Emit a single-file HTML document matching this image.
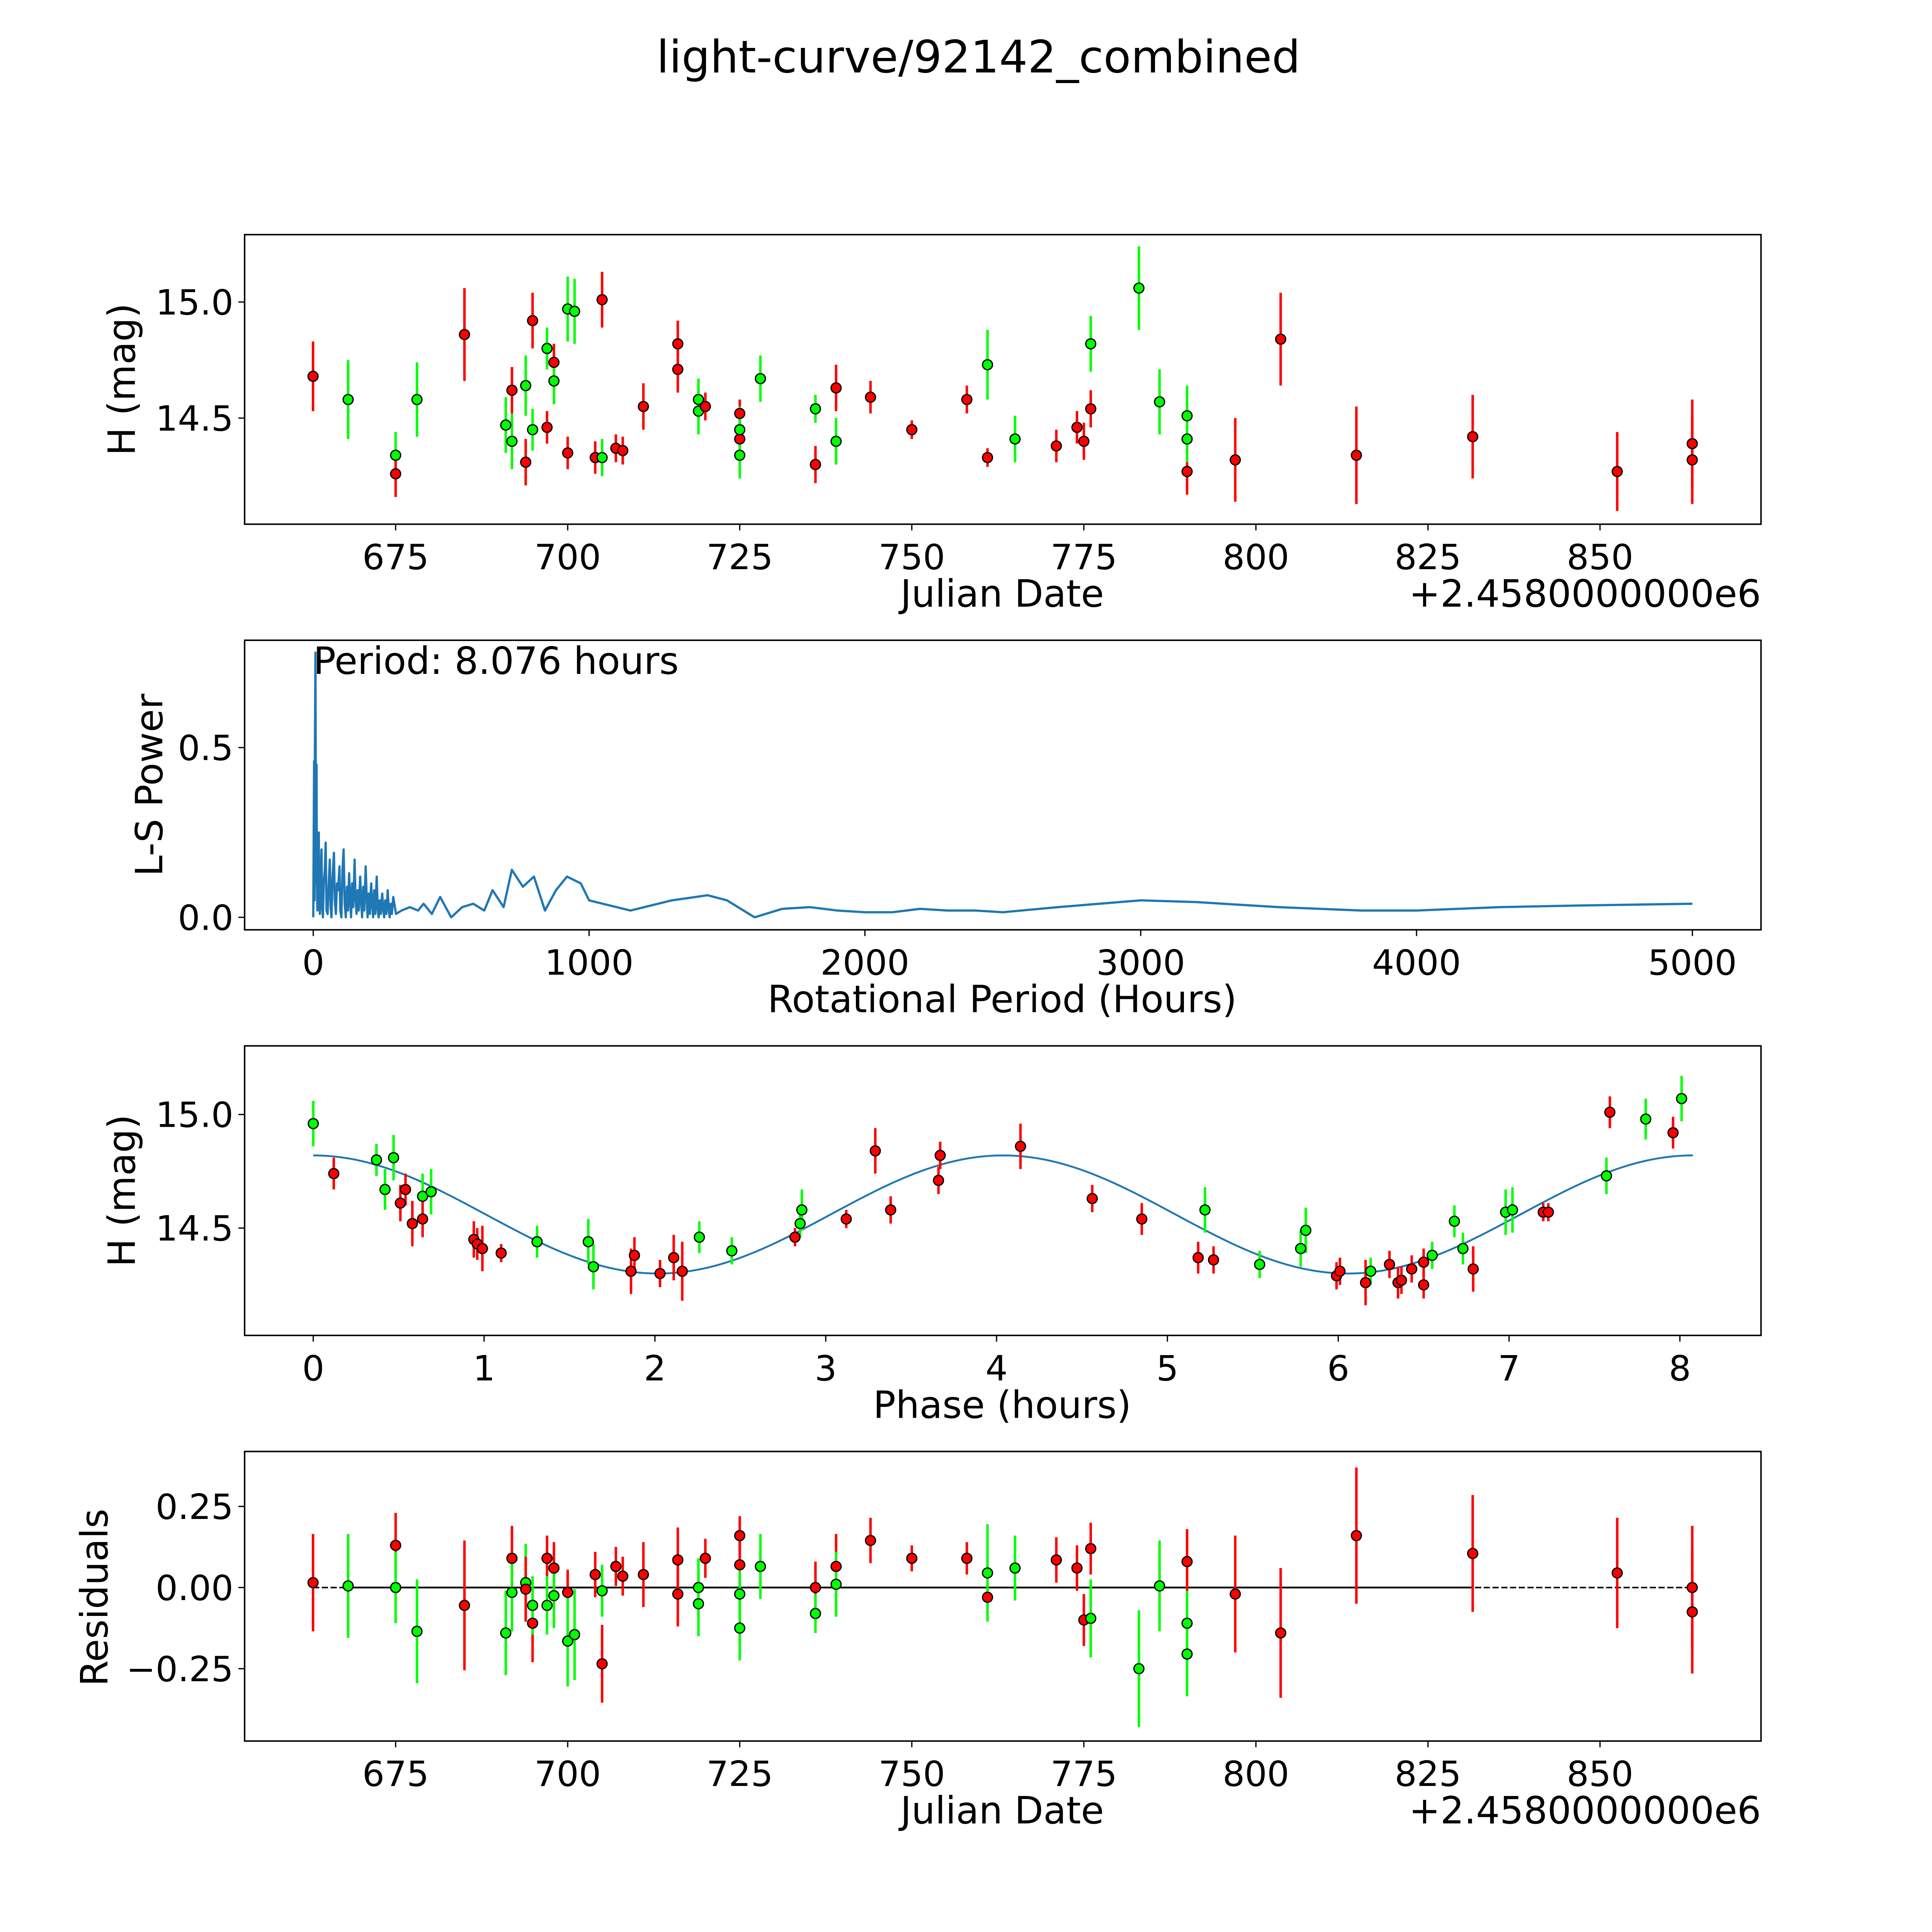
<!DOCTYPE html>
<html><head><meta charset="utf-8">
<style>
html,body{margin:0;padding:0;background:#fff;overflow:hidden;width:100vw;height:100vh;}
svg{display:block;width:100vw;height:100vh;font-family:"DejaVu Sans","Liberation Sans",sans-serif;}
</style></head>
<body>
<svg id="fig" xmlns="http://www.w3.org/2000/svg" viewBox="0 0 1548 1548" preserveAspectRatio="none">
<rect x="0" y="0" width="1548" height="1548" fill="#fff"/>
<text x="784" y="58" font-size="36" text-anchor="middle">light-curve/92142_combined</text>
<g id="p1"></g>
<g id="p2"></g>
<g id="p3"></g>
<g id="p4"></g>
</svg>
<script>
// ---- Panel 1: light curve ----
const lcDate = [663,668.1,675,675,678.1,685,691,691.9,691.9,693.9,693.9,694.9,694.9,697,697,698,698,700,700,701,704,705,705,707,708,711,716,716,719,719,720,725,725,725,725,728,736,736,739,739,744,750,758,761,761,765,771,774,775,776,776,783,786,790,790,790,797,803.6,814.6,831.5,852.5,863.4,863.4];
const lcMag = [14.68,14.58,14.34,14.26,14.58,14.86,14.47,14.40,14.62,14.64,14.31,14.92,14.45,14.46,14.80,14.74,14.66,14.35,14.97,14.96,14.33,14.33,15.01,14.37,14.36,14.55,14.82,14.71,14.58,14.53,14.55,14.52,14.41,14.45,14.34,14.67,14.30,14.54,14.63,14.40,14.59,14.45,14.58,14.33,14.73,14.41,14.38,14.46,14.40,14.82,14.54,15.06,14.57,14.27,14.41,14.51,14.32,14.84,14.34,14.42,14.27,14.39,14.32];
const lcErr = [0.15,0.17,0.1,0.1,0.16,0.2,0.12,0.12,0.1,0.13,0.1,0.12,0.09,0.07,0.09,0.08,0.1,0.07,0.14,0.14,0.07,0.08,0.12,0.06,0.06,0.1,0.1,0.1,0.09,0.1,0.06,0.06,0.08,0.1,0.1,0.1,0.08,0.06,0.1,0.1,0.07,0.04,0.06,0.04,0.15,0.1,0.07,0.07,0.08,0.12,0.08,0.18,0.14,0.1,0.1,0.13,0.18,0.2,0.21,0.18,0.17,0.19,0.19];
const lcBand = ['r','g','g','r','g','r','g','g','r','g','r','r','g','r','g','r','g','r','g','g','r','g','r','r','r','r','r','r','g','g','r','r','r','g','g','g','r','g','r','g','r','r','r','r','g','g','r','r','r','g','r','g','g','r','g','g','r','r','r','r','r','r','r'];
const dateTicks = [675,700,725,750,775,800,825,850];
const magTicks = [14.5,15.0];

// ---- Panel 2: periodogram ----
const pgPeriod = [0,2,3,4,5,6,8,9,10,11,12,13,15,17,20,22,24,27,30,32,35,38,42,45,48,52,56,60,63,66,70,75,78,82,86,90,95,98,102,106,110,114,118,122,126,130,134,137,141,145,150,153,157,161,165,170,174,177,181,185,190,194,197,201,205,210,214,217,221,225,230,234,237,241,245,250,254,257,261,265,270,274,277,281,285,290,300,320,350,380,400,430,460,500,540,580,620,650,690,720,760,800,840,880,920,970,1000,1050,1100,1150,1200,1300,1430,1500,1600,1700,1800,1900,2000,2100,2200,2300,2400,2500,2700,3000,3200,3500,3800,4000,4300,4600,5000];
const pgPower = [0,0.3,0.46,0.2,0.05,0.5,0.78,0.4,0.1,0.35,0.45,0.15,0.02,0.15,0.25,0.05,0.01,0.12,0.2,0.03,0.0,0.1,0.14,0.22,0.02,0.01,0.1,0.17,0.03,0.0,0.12,0.19,0.05,0.01,0.1,0.08,0.15,0.02,0.0,0.14,0.2,0.04,0.0,0.09,0.02,0.13,0.05,0.0,0.1,0.03,0.17,0.06,0.01,0.08,0.02,0.12,0.04,0.0,0.09,0.02,0.15,0.05,0.0,0.07,0.01,0.1,0.03,0.0,0.08,0.01,0.12,0.02,0.0,0.05,0.01,0.07,0.02,0.0,0.05,0.01,0.08,0.02,0.0,0.04,0.01,0.06,0.01,0.02,0.03,0.02,0.04,0.01,0.06,0.0,0.03,0.04,0.02,0.08,0.03,0.14,0.09,0.12,0.02,0.08,0.12,0.1,0.05,0.04,0.03,0.02,0.03,0.05,0.065,0.05,0.0,0.025,0.03,0.02,0.015,0.015,0.025,0.02,0.02,0.015,0.03,0.05,0.045,0.03,0.02,0.02,0.03,0.035,0.04];
const periodTicks = [0,1000,2000,3000,4000,5000];
const powerTicks = [0.0,0.5];

// ---- Panel 3: phased ----
const phPhase = [0.0,0.12,0.37,0.42,0.47,0.51,0.54,0.58,0.64,0.64,0.69,0.94,0.96,0.99,1.10,1.31,1.61,1.64,1.86,1.88,2.03,2.11,2.16,2.26,2.45,2.82,2.85,2.86,3.12,3.29,3.38,3.66,3.67,4.14,4.56,4.85,5.18,5.22,5.27,5.54,5.78,5.81,5.99,6.01,6.16,6.19,6.30,6.35,6.37,6.43,6.50,6.50,6.55,6.68,6.73,6.79,6.98,7.02,7.20,7.23,7.57,7.59,7.80,7.96,8.01];
const phMag = [14.96,14.74,14.80,14.67,14.81,14.61,14.67,14.52,14.64,14.54,14.66,14.45,14.43,14.41,14.39,14.44,14.44,14.33,14.31,14.38,14.30,14.37,14.31,14.46,14.40,14.46,14.52,14.58,14.54,14.84,14.58,14.71,14.82,14.86,14.63,14.54,14.37,14.58,14.36,14.34,14.41,14.49,14.29,14.31,14.26,14.31,14.34,14.26,14.27,14.32,14.35,14.25,14.38,14.53,14.41,14.32,14.57,14.58,14.57,14.57,14.73,15.01,14.98,14.92,15.07];
const phErr = [0.1,0.07,0.07,0.09,0.1,0.08,0.07,0.1,0.1,0.08,0.1,0.08,0.07,0.1,0.04,0.07,0.1,0.1,0.1,0.08,0.06,0.1,0.13,0.07,0.06,0.04,0.06,0.09,0.04,0.1,0.06,0.06,0.06,0.1,0.06,0.07,0.07,0.1,0.06,0.06,0.08,0.1,0.06,0.06,0.1,0.06,0.06,0.07,0.06,0.06,0.06,0.06,0.06,0.07,0.07,0.1,0.1,0.1,0.04,0.04,0.08,0.07,0.09,0.07,0.1];
const phBand = ['g','r','g','g','g','r','r','r','g','r','g','r','r','r','r','g','g','g','r','r','r','r','r','g','g','r','g','g','r','r','r','r','r','r','r','r','r','g','r','g','g','g','r','r','r','g','r','r','r','r','r','r','g','g','g','r','g','g','r','r','g','r','g','r','g'];
const modelParams = [14.56, 0.26, 8.076]; // mean, amplitude, period
const phaseTicks = [0,1,2,3,4,5,6,7,8];

// ---- Panel 4: residuals ----
const resDate = [663,668.1,675,675,678.1,685,691,691.9,691.9,693.9,693.9,694.9,694.9,697,697,698,698,700,700,701,704,705,705,707,708,711,716,716,719,719,720,725,725,725,725,728,736,736,739,739,744,750,758,761,761,765,771,774,775,776,776,783,786,790,790,790,797,803.6,814.6,831.5,852.5,863.4,863.4];
const resVal = [0.015,0.005,0.13,0,-0.135,-0.055,-0.14,0.09,-0.015,0.015,-0.005,-0.11,-0.055,0.09,-0.055,0.06,-0.025,-0.015,-0.165,-0.145,0.04,-0.01,-0.235,0.065,0.035,0.04,0.085,-0.02,0,-0.05,0.09,0.16,0.07,-0.02,-0.125,0.065,0,-0.08,0.065,0.01,0.145,0.09,0.09,-0.03,0.045,0.06,0.085,0.06,-0.1,-0.095,0.12,-0.25,0.005,0.08,-0.11,-0.205,-0.02,-0.14,0.16,0.105,0.045,0,-0.075];
const resErr = [0.15,0.16,0.1,0.11,0.16,0.2,0.13,0.1,0.12,0.12,0.1,0.12,0.09,0.07,0.09,0.08,0.1,0.07,0.14,0.14,0.07,0.08,0.12,0.06,0.06,0.1,0.1,0.1,0.09,0.1,0.06,0.06,0.08,0.1,0.1,0.1,0.08,0.06,0.1,0.1,0.07,0.04,0.05,0.04,0.15,0.1,0.07,0.07,0.08,0.12,0.08,0.18,0.14,0.1,0.1,0.13,0.18,0.2,0.21,0.18,0.17,0.19,0.19];
const resBand = ['r','g','r','g','g','r','g','r','g','g','r','r','g','r','g','r','g','r','g','g','r','g','r','r','r','r','r','r','g','g','r','r','r','g','g','g','r','g','r','g','r','r','r','r','g','g','r','r','r','g','r','g','g','r','g','g','r','r','r','r','r','r','r'];
const resTicks = [-0.25,0.0,0.25];

const NS='http://www.w3.org/2000/svg';
function mk(parent,tag,attrs){const e=document.createElementNS(NS,tag);for(const k in attrs)e.setAttribute(k,attrs[k]);parent.appendChild(e);return e;}
function lin(d0,d1,r0,r1){return v=>r0+(v-d0)*(r1-r0)/(d1-d0);}
const COL={r:'#ff0000',g:'#00ff00'};
const TF=28, LF=30;

function frame(g,L,T,R,B,name){
  const r=mk(g,'rect',{x:L,y:T,width:R-L,height:B-T,fill:'none',stroke:'#000','stroke-width':1.2});
  
  
}
function xTicks(g,ticks,sx,B,fmt){
  ticks.forEach(t=>{
    const x=sx(t);
    const l=mk(g,'line',{x1:x,x2:x,y1:B,y2:B+5,stroke:'#000','stroke-width':1});
    
    
    const tx=mk(g,'text',{x:x,y:B+36,'font-size':TF,'text-anchor':'middle'});
    tx.textContent=fmt(t);
    
    
  });
}
function yTicks(g,ticks,sy,L,fmt){
  ticks.forEach(t=>{
    const y=sy(t);
    const l=mk(g,'line',{x1:L-5,x2:L,y1:y,y2:y,stroke:'#000','stroke-width':1});
    
    
    const tx=mk(g,'text',{x:L-9,y:y+10,'font-size':TF,'text-anchor':'end'});
    tx.textContent=fmt(t);
    
    
  });
}
function label(g,txt,x,y,rot,name){
  const t=mk(g,'text',{x:x,y:y,'font-size':LF,'text-anchor':'middle'});
  if(rot) t.setAttribute('transform','rotate(-90 '+x+' '+y+')');
  t.textContent=txt;
  
  
}
function errPts(g,xs,ys,es,bands,sx,sy){
  for(let i=0;i<xs.length;i++){
    const x=sx(xs[i]),c=COL[bands[i]];
    const l=mk(g,'line',{x1:x,x2:x,y1:sy(ys[i]-es[i]),y2:sy(ys[i]+es[i]),stroke:c,'stroke-width':2});
    
    
  }
  for(let i=0;i<xs.length;i++){
    const c=mk(g,'circle',{cx:sx(xs[i]),cy:sy(ys[i]),r:4,fill:COL[bands[i]],stroke:'#000','stroke-width':1});
    
    
  }
}
const fmtMag=v=>v.toFixed(1);

// Panel 1
(function(){
  const g=document.getElementById('p1');
  const L=196,R=1411,T=188,B=420;
  const sx=lin(675,850,317,1282), sy=lin(14.5,15.0,335,242);
  errPts(g,lcDate,lcMag,lcErr,lcBand,sx,sy);
  frame(g,L,T,R,B,'light-curve-frame');
  xTicks(g,dateTicks,sx,B,v=>String(v));
  yTicks(g,magTicks,sy,L,fmtMag);
  label(g,'Julian Date',803,486,false,'x-axis-title');
  label(g,'H (mag)',108,304,true,'y-axis-title');
  const o=mk(g,'text',{x:1411,y:486,'font-size':LF,'text-anchor':'end'});o.textContent='+2.4580000000e6';
  
  
})();

// Panel 2
(function(){
  const g=document.getElementById('p2');
  const L=196,R=1411,T=513,B=745;
  const sx=lin(0,5000,251,1356), sy=lin(0,0.5,735,599);
  let d='';
  pgPeriod.forEach((p,i)=>{d+=(i?'L':'M')+sx(p).toFixed(2)+' '+sy(pgPower[i]).toFixed(2);});
  const path=mk(g,'path',{d:d,fill:'none',stroke:'#1f77b4','stroke-width':1.8,'stroke-linejoin':'round'});
  
  
  frame(g,L,T,R,B,'periodogram-frame');
  xTicks(g,periodTicks,sx,B,v=>String(v));
  yTicks(g,powerTicks,sy,L,fmtMag);
  label(g,'Rotational Period (Hours)',803,811,false,'x-axis-title');
  label(g,'L-S Power',130,629,true,'y-axis-title');
  const t=mk(g,'text',{x:251,y:540,'font-size':LF});t.textContent='Period: 8.076 hours';
  
  
})();

// Panel 3
(function(){
  const g=document.getElementById('p3');
  const L=196,R=1411,T=838,B=1070;
  const sx=lin(0,8,251,1346), sy=lin(14.5,15.0,984,893);
  const [m,a,P]=modelParams;
  let d='';
  for(let i=0;i<=200;i++){const p=P*i/200;const v=m+a*Math.cos(4*Math.PI*p/P);d+=(i?'L':'M')+sx(p).toFixed(2)+' '+sy(v).toFixed(2);}
  const path=mk(g,'path',{d:d,fill:'none',stroke:'#1f77b4','stroke-width':1.5});
  
  
  errPts(g,phPhase,phMag,phErr,phBand,sx,sy);
  frame(g,L,T,R,B,'phase-frame');
  xTicks(g,phaseTicks,sx,B,v=>String(v));
  yTicks(g,magTicks,sy,L,fmtMag);
  label(g,'Phase (hours)',803,1136,false,'x-axis-title');
  label(g,'H (mag)',108,954,true,'y-axis-title');
})();

// Panel 4
(function(){
  const g=document.getElementById('p4');
  const L=196,R=1411,T=1163,B=1395;
  const sx=lin(675,850,317,1282), sy=lin(0,0.25,1272,1207);
  const dl=mk(g,'line',{x1:sx(663),x2:sx(863.4),y1:sy(0),y2:sy(0),stroke:'#000','stroke-width':1.2,'stroke-dasharray':'5,2'});
  
  
  const sl=mk(g,'line',{x1:sx(668),x2:sx(831.5),y1:sy(0),y2:sy(0),stroke:'#000','stroke-width':1.4});
  
  
  errPts(g,resDate,resVal,resErr,resBand,sx,sy);
  frame(g,L,T,R,B,'residuals-frame');
  xTicks(g,dateTicks,sx,B,v=>String(v));
  yTicks(g,resTicks,sy,L,v=>(v<0?'\u2212':'')+Math.abs(v).toFixed(2));
  label(g,'Julian Date',803,1461,false,'x-axis-title');
  label(g,'Residuals',86,1280,true,'y-axis-title');
  const o=mk(g,'text',{x:1411,y:1461,'font-size':LF,'text-anchor':'end'});o.textContent='+2.4580000000e6';
  
  
})();
</script>
</body></html>
